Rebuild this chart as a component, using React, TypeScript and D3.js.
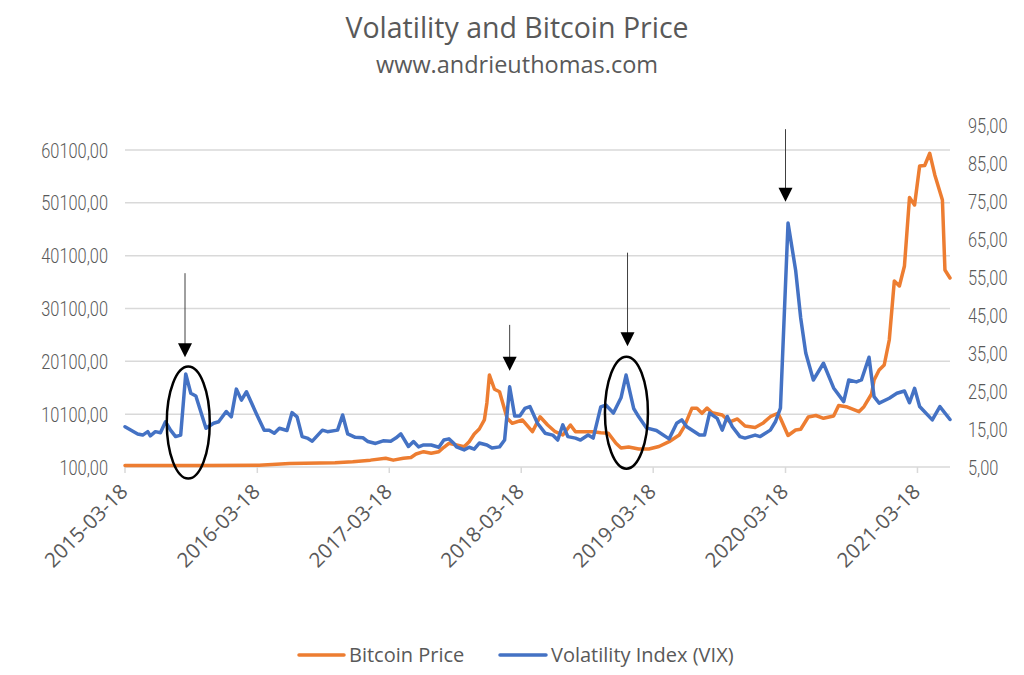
import React from "react";
import * as d3 from "d3";

// ---- data (weekly offsets from 2015-03-18) ----
const START = "2015-03-18";
const LAST_WEEK = 326;

const btcWeeks = [0,30,53,65,83,90,97,103,106,110,113,115,118,121,124,126,128,131,134,136,138,140,142,143,144,146,148,151,153,157,161,164,167,170,173,176,178,182,185,188,191,194,196,199,203,207,211,215,219,221,224,226,228,230,232,236,239,242,245,249,252,255,258,259,262,265,267,270,273,276,280,282,285,290,292,295,296,298,300,302,304,306,308,310,312,314,316,318,320,323,324,326];
const btcValues = [400,400,450,760,900,1100,1400,1750,1400,1750,1900,2560,3000,2700,3000,3830,4590,4260,3940,4890,6350,7290,9000,12220,17520,14810,14350,9320,8370,9000,6780,9620,8050,6780,6160,8050,6780,6780,6780,6590,6480,4590,3700,3890,3510,3510,3980,4890,6160,7730,11210,11210,10270,11270,10380,9940,8620,9190,7860,7580,8370,9620,10270,9320,6060,7100,7240,9570,9850,9320,9750,11740,11510,10570,11510,13920,16570,18460,19410,24140,35310,34360,38150,51120,49700,57080,57170,59480,55380,50640,37390,35880];

const vixWeeks = [0,5,7,9,10,12,14,16,18,20,22,24,26,28,32,35,37,40,42,44,46,48,52,55,57,59,61,64,66,68,70,72,74,78,80,84,86,88,91,94,96,99,102,105,107,109,112,114,116,118,121,124,126,128,130,131,134,136,138,140,143,145,148,150,152,154,156,158,160,163,166,169,171,173,175,178,180,183,185,188,190,193,196,198,201,203,206,210,215,218,220,222,227,229,231,234,236,238,240,243,245,249,251,255,257,259,262,265,267,269,272,276,280,284,286,289,291,294,296,298,302,305,308,310,312,314,319,322,326];
const vixValues = [15.6,13.7,13.4,14.3,13.2,14.3,14.0,16.9,14.7,13.0,13.4,29.5,24.4,23.7,15.2,16.5,16.9,19.6,18.2,25.5,22.6,24.8,18.9,14.7,14.7,13.9,15.2,14.6,19.3,18.2,13.0,12.6,11.8,14.7,14.3,14.7,18.7,13.7,12.8,12.7,11.7,11.2,11.9,11.8,12.6,13.7,10.4,11.7,10.3,10.8,10.8,10.2,12.1,12.4,11.2,10.3,9.5,10.2,9.7,11.3,10.8,10.0,10.3,12.1,26.1,18.4,18.4,20.4,20.9,16.5,13.9,13.4,12.1,16.1,13.0,12.6,12.1,13.4,12.6,20.8,21.3,19.2,23.2,29.2,20.4,18.2,15.3,14.6,12.4,16.5,17.4,15.6,13.4,13.4,19.2,17.8,14.7,18.3,15.6,13.0,12.6,13.4,13.0,14.7,16.9,20.5,69.2,56.8,44.2,35.0,27.9,32.3,25.8,22.2,27.9,27.4,27.9,33.9,23.5,21.8,23.1,24.4,25.0,21.9,25.7,20.9,17.4,20.9,17.5];

const leftTicks = [100, 10100, 20100, 30100, 40100, 50100, 60100];
const rightTicks = [5, 15, 25, 35, 45, 55, 65, 75, 85, 95];
const yearTickCount = 7;

// annotations: arrows (week, top VIX, tip VIX) and ellipses (week, VIX centre)
const arrowWeeks = [23.7, 152, 198.5, 261];
const arrowTops = [56.0, 42.4, 61.4, 93.9];
const arrowTips = [33.9, 30.3, 36.8, 74.8];
const ellipseWeeks = [25, 198.1];
const ellipseCentres = [16.7, 19.3];

const title = "Volatility and Bitcoin Price";
const subtitle = "www.andrieuthomas.com";
const seriesNames = ["Bitcoin Price", "Volatility Index (VIX)"];

const ORANGE = "#ED7D31";
const BLUE = "#4472C4";
const TEXT = "#595959";
const GRID = "#D9D9D9";

const W = 1024, H = 675;
const plot = { left: 125, right: 950, top: 125, bottom: 467 };

const startDate = new Date(START + "T00:00:00Z");
const weekDate = (w: number) => d3.utcDay.offset(startDate, Math.round(w * 7));

export default function App() {
  const x = d3.scaleUtc().domain([startDate, weekDate(LAST_WEEK)]).range([plot.left, plot.right]);
  const yL = d3.scaleLinear().domain([100, 60100]).range([plot.bottom, 150]);
  const yR = d3.scaleLinear().domain([5, 95]).range([plot.bottom, plot.top]);

  const btc = btcWeeks.map((w, i) => ({ d: weekDate(w), v: btcValues[i] }));
  const vix = vixWeeks.map((w, i) => ({ d: weekDate(w), v: vixValues[i] }));

  const lineL = d3.line<{ d: Date; v: number }>().x((p) => x(p.d)).y((p) => yL(p.v));
  const lineR = d3.line<{ d: Date; v: number }>().x((p) => x(p.d)).y((p) => yR(p.v));

  const yearTicks = d3.range(yearTickCount).map((i) => d3.utcYear.offset(startDate, i));
  const fmtDate = d3.utcFormat("%Y-%m-%d");
  const fmtNum = (v: number) => d3.format(".2f")(v).replace(".", ",");

  const axisFont = "Roboto, sans-serif";
  const mainFont = "'Open Sans', 'Noto Sans', sans-serif";

  return (
    <svg width={W} height={H} style={{ position: "absolute", left: 0, top: 0, background: "#fff" }}>
      <rect width={W} height={H} fill="#fff" />
      <text x={517} y={38} textAnchor="middle" fontFamily={mainFont} fontSize={28.5} fill={TEXT}>{title}</text>
      <text x={517} y={73} textAnchor="middle" fontFamily={mainFont} fontSize={23.5} fill={TEXT}>{subtitle}</text>

      {leftTicks.map((t) => (
        <g key={"l" + t}>
          <line x1={plot.left} x2={plot.right} y1={yL(t)} y2={yL(t)} stroke={GRID} strokeWidth={1.5} />
          <text transform={`translate(108,${yL(t)}) scale(0.78,1)`} dy="0.36em" textAnchor="end" fontFamily={axisFont} fontWeight={300} fontSize={21} fill={TEXT}>{fmtNum(t)}</text>
        </g>
      ))}
      {rightTicks.map((t) => (
        <text key={"r" + t} transform={`translate(968,${yR(t)}) scale(0.78,1)`} dy="0.36em" textAnchor="start" fontFamily={axisFont} fontWeight={300} fontSize={21} fill={TEXT}>{fmtNum(t)}</text>
      ))}

      {yearTicks.map((d) => (
        <g key={+d} transform={`translate(${x(d)},${plot.bottom})`}>
          <line y1={0} y2={6} stroke={GRID} strokeWidth={1.5} />
          <text transform="translate(4,26) rotate(-45)" textAnchor="end" fontFamily={mainFont} fontSize={20.5} fill={TEXT}>{fmtDate(d)}</text>
        </g>
      ))}

      <path d={lineL(btc) || ""} fill="none" stroke={ORANGE} strokeWidth={3.5} strokeLinejoin="round" strokeLinecap="round" />
      <path d={lineR(vix) || ""} fill="none" stroke={BLUE} strokeWidth={3.5} strokeLinejoin="round" strokeLinecap="round" />

      {arrowWeeks.map((w, i) => {
        const ax = x(weekDate(w));
        const top = yR(arrowTops[i]);
        const tip = yR(arrowTips[i]);
        return (
          <g key={"a" + i}>
            <line x1={ax} x2={ax} y1={top} y2={tip - 12} stroke="#404040" strokeWidth={1} />
            <path d={`M${ax - 7},${tip - 14}L${ax + 7},${tip - 14}L${ax},${tip}Z`} fill="#000" />
          </g>
        );
      })}
      {ellipseWeeks.map((w, i) => (
        <ellipse key={"e" + i} cx={x(weekDate(w))} cy={yR(ellipseCentres[i])} rx={21.5} ry={56} fill="none" stroke="#000" strokeWidth={2.5} />
      ))}

      <g fontFamily={mainFont} fontSize={20} fill={TEXT}>
        <line x1={299} x2={344} y1={655} y2={655} stroke={ORANGE} strokeWidth={3.5} strokeLinecap="round" />
        <text x={349} y={655} dy="0.35em">{seriesNames[0]}</text>
        <line x1={500} x2={546} y1={655} y2={655} stroke={BLUE} strokeWidth={3.5} strokeLinecap="round" />
        <text x={551} y={655} dy="0.35em">{seriesNames[1]}</text>
      </g>
    </svg>
  );
}
